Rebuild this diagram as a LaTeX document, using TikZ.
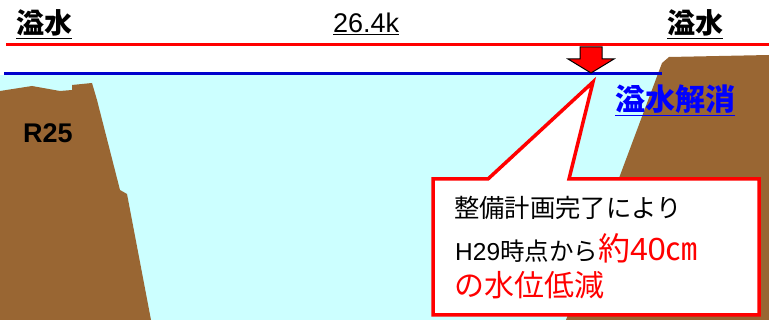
\documentclass[tikz,border=0pt]{standalone}
\usepackage{fontspec}
\usepackage{tikz}
\usepackage{xcolor}
\setmainfont{Liberation Sans}
\newfontfamily\jpfont{Noto Sans CJK JP}
\usetikzlibrary{
    arrows,
    shapes
}

\definecolor{bankbrown}{HTML}{996633}
\definecolor{watercyan}{HTML}{CCFFFF}
\definecolor{levelblue}{HTML}{0000CC}

\tikzset{
    bank/.style={fill=bankbrown, draw=none},
    label/.style={inner sep=0cm, anchor=base west}
}

\begin{document}
\begin{tikzpicture}[x=1pt, y=-1pt]
                \useasboundingbox (0, 0) rectangle (769, 320);

                % river water and both banks
                \fill[watercyan] (0, 75) rectangle (769, 320);
                \path[bank] (0, 91) -- (32, 86) -- (60, 91) -- (72, 90) -- (72, 85) -- (92, 83) -- (97, 100) -- (120, 190) -- (127, 194) -- (151, 320) -- (0, 320) -- cycle;
                \path[bank] (566, 320) -- (662, 63) -- (669, 57) -- (769, 55) -- (769, 320) -- cycle;

                % flood level and lowered level
                \coordinate (flood west) at (6, 45);
                \coordinate (flood east) at (769, 45);
                \coordinate (level west) at (4, 74);
                \coordinate (level east) at (662, 74);
                \draw[red, line width=3pt] (flood west)--(flood east);
                \draw[levelblue, line width=3pt] (level west)--(level east);

                \node[label] (spill left) at (16, 34) {\jpfont\bfseries\fontsize{28}{28}\selectfont\underline{溢水}};
                \node[label] (spill right) at (667, 34) {\jpfont\bfseries\fontsize{28}{28}\selectfont\underline{溢水}};
                \node[label] (section) at (333, 33) {\fontsize{27}{27}\selectfont\underline{26.4k}};
                \node[label] (route) at (23, 143) {\bfseries\fontsize{27}{27}\selectfont R25};
                \node[label, text=blue] (solved) at (615, 111) {\jpfont\bfseries\fontsize{30}{30}\selectfont\underline{溢水解消}};

                % drop of the water level
                \path[fill=red, draw=black, line width=1pt, line join=miter] (580, 47) -- (602, 47) -- (602, 59) -- (614, 59) -- (591, 73) -- (568, 59) -- (580, 59) -- cycle;

                % callout box
                \path[fill=white, draw=red, line width=3.5pt, line join=miter] (433, 179) -- (488, 179) -- (593, 82) -- (569, 179) -- (759, 179) -- (759, 315) -- (433, 315) -- cycle;
                \node[label] (note 1) at (454, 218) {\jpfont\fontsize{25.3}{25.3}\selectfont 整備計画完了により};
                \node[label] (note 2) at (455, 261) {\fontsize{24.5}{24.5}\selectfont H29\jpfont 時点から\textcolor{red}{\fontsize{32}{32}\selectfont 約\rmfamily 40\jpfont ㎝}};
                \node[label, text=red] (note 3) at (454, 297) {\jpfont\fontsize{30}{30}\selectfont の水位低減};
            \end{tikzpicture}
\end{document}
